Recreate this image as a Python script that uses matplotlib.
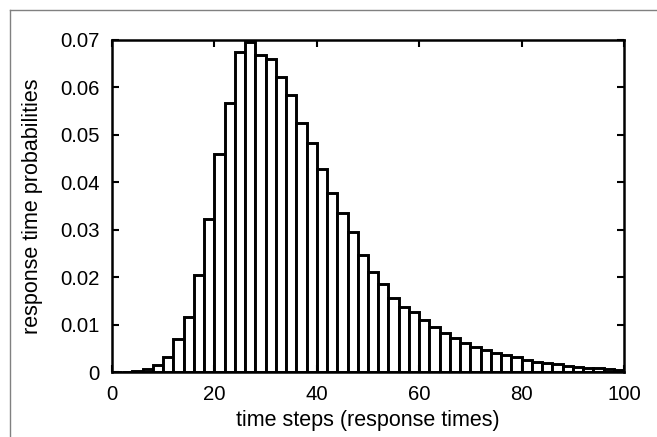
import matplotlib
matplotlib.use('Agg')
from matplotlib import pyplot as plt
from matplotlib.lines import Line2D
import numpy as np

# bar centres (time steps) and probabilities
time_steps = np.arange(1, 100, 2)
probs = [0.0, 0.0001, 0.0004, 0.0008, 0.0015, 0.0033, 0.0070, 0.0117, 0.0205, 0.0323,
         0.0459, 0.0566, 0.0674, 0.0695, 0.0667, 0.0658, 0.0622, 0.0583, 0.0525, 0.0482,
         0.0428, 0.0378, 0.0335, 0.0295, 0.0248, 0.0211, 0.0187, 0.0156, 0.0138, 0.0127,
         0.0110, 0.0095, 0.0084, 0.0072, 0.0061, 0.0054, 0.0047, 0.0040, 0.0037, 0.0032,
         0.0026, 0.0023, 0.0019, 0.0017, 0.0014, 0.0012, 0.0009, 0.0009, 0.0007, 0.0005]
x_ticks = [0, 20, 40, 60, 80, 100]
y_ticks = [0, 0.01, 0.02, 0.03, 0.04, 0.05, 0.06, 0.07]
y_tick_labels = ['0', '0.01', '0.02', '0.03', '0.04', '0.05', '0.06', '0.07']

plt.rcParams['font.family'] = ['Liberation Sans', 'DejaVu Sans']

fig = plt.figure(figsize=(6.57, 4.37), dpi=100)
ax = fig.add_axes([0.1705, 0.1476, 0.7793, 0.762])

ax.bar(time_steps, probs, width=2.0, color='white', edgecolor='black', linewidth=2.1)

ax.set_xlim(0, 100)
ax.set_ylim(0, 0.07)
ax.set_xticks(x_ticks)
ax.set_yticks(y_ticks)
ax.set_yticklabels(y_tick_labels)
ax.tick_params(direction='in', length=5, width=1.5, labelsize=14.7,
               top=True, right=True)
ax.tick_params(axis='y', pad=9)
ax.tick_params(axis='x', pad=9)
for s in ax.spines.values():
    s.set_linewidth(1.8)

ax.set_xlabel('time steps (response times)', fontsize=15.5, labelpad=4)
ax.set_ylabel('response time probabilities', fontsize=15.5, labelpad=12)

# partial frame from the original figure
fx = 9.5 / 657
fy = 1 - 9.5 / 437
fig.add_artist(Line2D([fx, 1], [fy, fy], transform=fig.transFigure, color='#808080', lw=1))
fig.add_artist(Line2D([fx, fx], [0, fy], transform=fig.transFigure, color='#808080', lw=1))

fig.savefig('out.png', dpi=100)
